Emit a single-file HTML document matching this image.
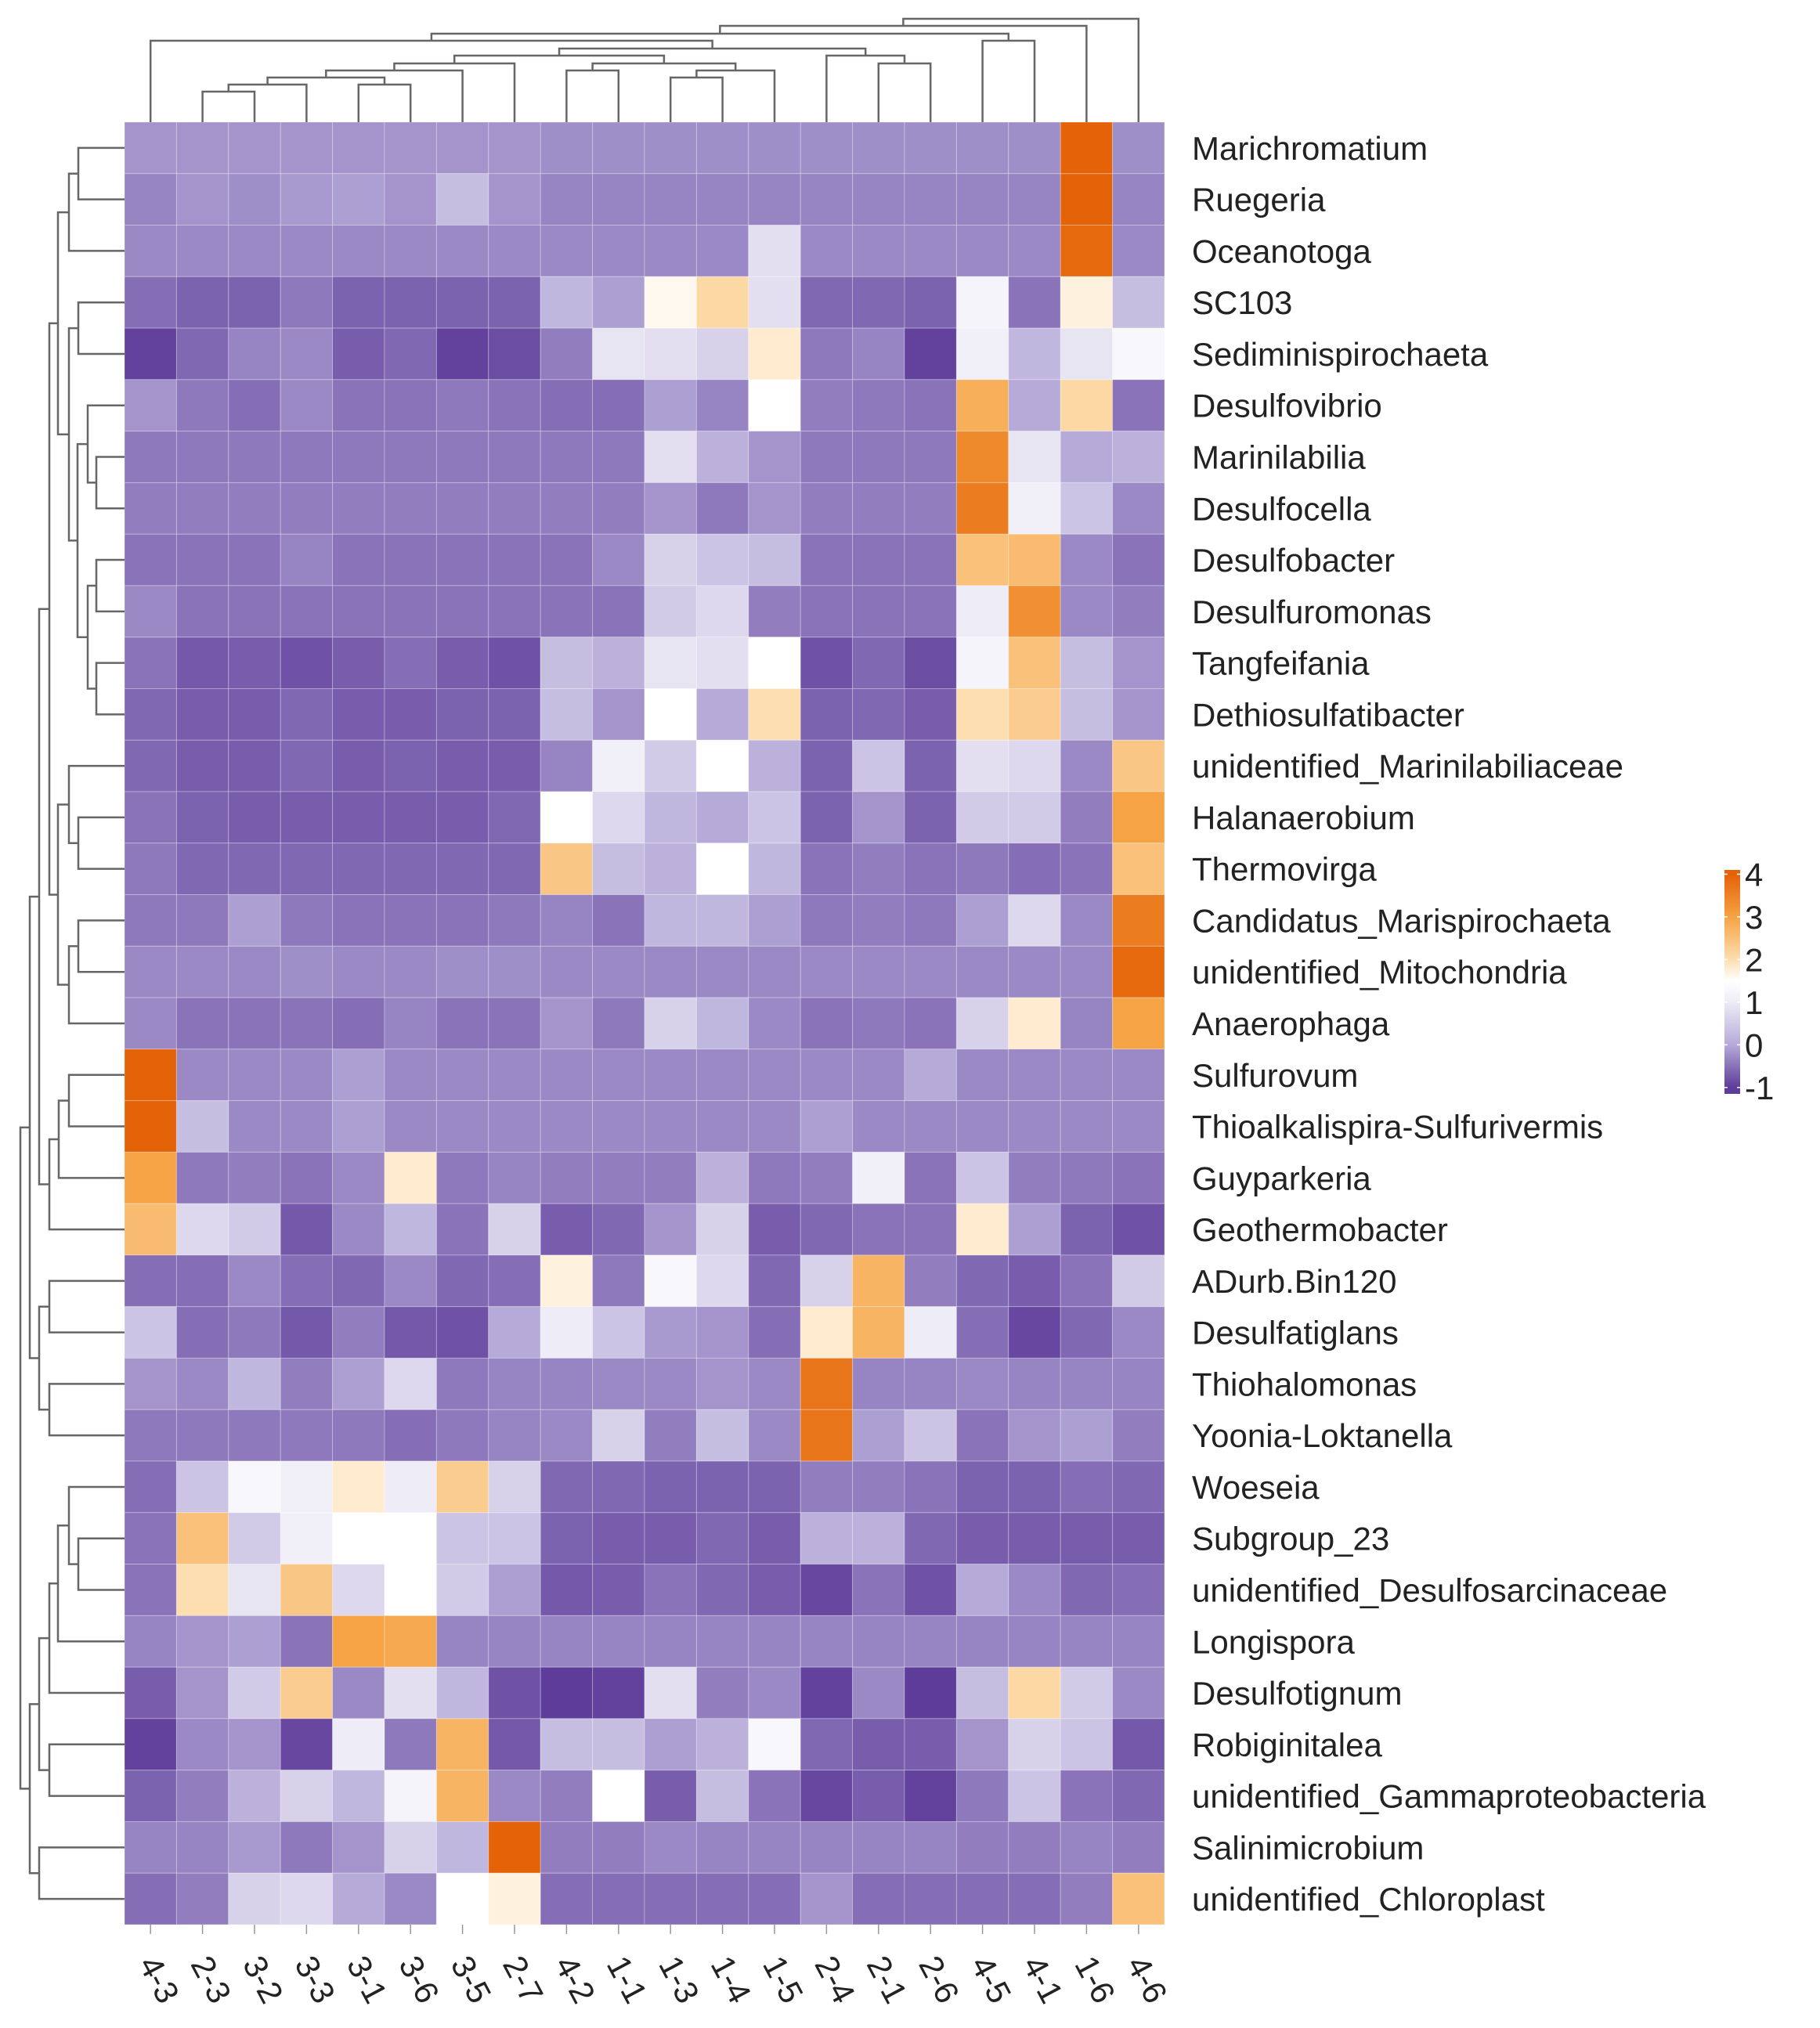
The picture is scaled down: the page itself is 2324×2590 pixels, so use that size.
<!DOCTYPE html>
<html><head><meta charset="utf-8"><style>
html,body{margin:0;padding:0;background:#fff;}
svg{display:block;font-family:"Liberation Sans",Arial,sans-serif;}
</style></head><body>
<svg id="chart" width="2324" height="2590" xmlns="http://www.w3.org/2000/svg">
<g id="cells"></g>
<g id="rowlabels"></g>
<g id="collabels"></g>
<g id="topdend"></g>
<g id="leftdend"></g>
<g id="legend"></g>
</svg>
<script>
const columns=["4-3","2-3","3-2","3-3","3-1","3-6","3-5","2-7","4-2","1-1","1-3","1-4","1-5","2-4","2-1","2-6","4-5","4-1","1-6","4-6"];
const rows=["Marichromatium","Ruegeria","Oceanotoga","SC103","Sediminispirochaeta","Desulfovibrio","Marinilabilia","Desulfocella","Desulfobacter","Desulfuromonas","Tangfeifania","Dethiosulfatibacter","unidentified_Marinilabiliaceae","Halanaerobium","Thermovirga","Candidatus_Marispirochaeta","unidentified_Mitochondria","Anaerophaga","Sulfurovum","Thioalkalispira-Sulfurivermis","Guyparkeria","Geothermobacter","ADurb.Bin120","Desulfatiglans","Thiohalomonas","Yoonia-Loktanella","Woeseia","Subgroup_23","unidentified_Desulfosarcinaceae","Longispora","Desulfotignum","Robiginitalea","unidentified_Gammaproteobacteria","Salinimicrobium","unidentified_Chloroplast"];
const values=[
[-0.2,-0.2,-0.2,-0.2,-0.2,-0.2,-0.2,-0.2,-0.25,-0.25,-0.25,-0.25,-0.25,-0.25,-0.25,-0.25,-0.25,-0.25,4,-0.25],
[-0.35,-0.2,-0.25,-0.15,-0.1,-0.2,0.3,-0.2,-0.35,-0.35,-0.35,-0.35,-0.35,-0.35,-0.35,-0.35,-0.35,-0.35,4,-0.35],
[-0.3,-0.3,-0.3,-0.3,-0.3,-0.3,-0.3,-0.3,-0.3,-0.3,-0.3,-0.3,0.8,-0.3,-0.3,-0.3,-0.3,-0.3,3.9,-0.3],
[-0.55,-0.65,-0.65,-0.45,-0.65,-0.65,-0.65,-0.65,0.2,-0.1,1.6,2.1,0.8,-0.6,-0.6,-0.65,1.2,-0.5,1.7,0.3],
[-0.95,-0.6,-0.35,-0.3,-0.7,-0.6,-0.95,-0.85,-0.4,0.9,0.8,0.6,1.8,-0.45,-0.35,-0.95,1.1,0.2,0.9,1.3],
[-0.2,-0.45,-0.55,-0.3,-0.5,-0.5,-0.45,-0.5,-0.55,-0.55,-0.1,-0.35,1.5,-0.4,-0.45,-0.5,2.8,0,2.1,-0.5],
[-0.45,-0.45,-0.45,-0.45,-0.45,-0.45,-0.45,-0.45,-0.45,-0.45,0.8,0.1,-0.2,-0.45,-0.45,-0.45,3.4,0.9,0,0.1],
[-0.4,-0.4,-0.4,-0.4,-0.4,-0.4,-0.4,-0.4,-0.4,-0.4,-0.2,-0.45,-0.2,-0.4,-0.4,-0.4,3.6,1.1,0.4,-0.3],
[-0.5,-0.5,-0.5,-0.35,-0.5,-0.5,-0.5,-0.5,-0.5,-0.3,0.6,0.4,0.3,-0.5,-0.5,-0.5,2.5,2.6,-0.3,-0.5],
[-0.3,-0.5,-0.5,-0.5,-0.5,-0.5,-0.5,-0.5,-0.5,-0.5,0.5,0.7,-0.4,-0.5,-0.5,-0.5,1.0,3.3,-0.3,-0.4],
[-0.5,-0.75,-0.7,-0.8,-0.7,-0.55,-0.7,-0.8,0.3,0.1,0.9,0.8,1.5,-0.8,-0.6,-0.85,1.2,2.5,0.3,-0.2],
[-0.6,-0.7,-0.7,-0.6,-0.7,-0.7,-0.65,-0.65,0.3,-0.2,1.5,0,2,-0.65,-0.6,-0.7,2.0,2.3,0.3,-0.2],
[-0.6,-0.7,-0.7,-0.6,-0.7,-0.65,-0.7,-0.7,-0.35,1.1,0.5,1.5,0.1,-0.65,0.4,-0.65,0.8,0.7,-0.3,2.4],
[-0.5,-0.65,-0.7,-0.7,-0.7,-0.7,-0.7,-0.6,1.5,0.7,0.2,0,0.4,-0.65,-0.2,-0.65,0.5,0.5,-0.4,3.0],
[-0.45,-0.6,-0.6,-0.6,-0.6,-0.6,-0.6,-0.6,2.4,0.3,0.1,1.5,0.2,-0.5,-0.4,-0.5,-0.45,-0.55,-0.5,2.5],
[-0.45,-0.45,-0.1,-0.45,-0.5,-0.5,-0.5,-0.45,-0.35,-0.5,0.2,0.2,-0.1,-0.45,-0.4,-0.45,-0.1,0.7,-0.3,3.6],
[-0.3,-0.3,-0.3,-0.25,-0.3,-0.3,-0.25,-0.25,-0.3,-0.3,-0.3,-0.3,-0.3,-0.3,-0.3,-0.3,-0.3,-0.3,-0.3,3.9],
[-0.3,-0.5,-0.5,-0.5,-0.55,-0.35,-0.5,-0.5,-0.2,-0.45,0.6,0.2,-0.3,-0.5,-0.45,-0.5,0.6,1.8,-0.35,3.0],
[4,-0.3,-0.3,-0.3,-0.1,-0.3,-0.3,-0.3,-0.3,-0.3,-0.3,-0.3,-0.3,-0.3,-0.3,0,-0.3,-0.3,-0.3,-0.3],
[4,0.3,-0.3,-0.3,-0.1,-0.3,-0.3,-0.3,-0.3,-0.3,-0.3,-0.3,-0.3,-0.1,-0.3,-0.3,-0.3,-0.3,-0.3,-0.3],
[3.0,-0.45,-0.4,-0.5,-0.3,1.8,-0.45,-0.35,-0.4,-0.4,-0.4,0.1,-0.45,-0.4,1.1,-0.5,0.4,-0.4,-0.45,-0.5],
[2.6,0.7,0.5,-0.75,-0.3,0.2,-0.5,0.6,-0.7,-0.6,-0.2,0.6,-0.7,-0.6,-0.5,-0.5,1.8,-0.1,-0.65,-0.8],
[-0.55,-0.55,-0.3,-0.55,-0.6,-0.3,-0.6,-0.55,1.7,-0.45,1.3,0.7,-0.6,0.6,2.7,-0.4,-0.6,-0.7,-0.5,0.5],
[0.4,-0.55,-0.45,-0.75,-0.4,-0.75,-0.8,0,1.0,0.4,-0.15,-0.2,-0.55,1.8,2.7,1.0,-0.55,-0.9,-0.6,-0.3],
[-0.2,-0.3,0.2,-0.4,-0.1,0.7,-0.45,-0.35,-0.35,-0.3,-0.3,-0.2,-0.3,3.7,-0.35,-0.35,-0.3,-0.35,-0.35,-0.35],
[-0.45,-0.45,-0.45,-0.45,-0.45,-0.55,-0.45,-0.35,-0.3,0.6,-0.4,0.3,-0.3,3.7,-0.1,0.4,-0.5,-0.2,-0.1,-0.4],
[-0.55,0.4,1.3,1.1,1.8,1.0,2.3,0.6,-0.6,-0.6,-0.65,-0.65,-0.65,-0.4,-0.4,-0.5,-0.65,-0.65,-0.55,-0.6],
[-0.5,2.5,0.5,1.1,1.5,1.5,0.4,0.4,-0.65,-0.7,-0.7,-0.6,-0.7,0.1,0.1,-0.6,-0.7,-0.7,-0.7,-0.7],
[-0.5,2.0,0.9,2.4,0.7,1.5,0.5,-0.1,-0.75,-0.7,-0.5,-0.6,-0.7,-0.9,-0.5,-0.8,0,-0.3,-0.6,-0.55],
[-0.35,-0.2,-0.1,-0.5,3.0,2.9,-0.35,-0.35,-0.35,-0.35,-0.35,-0.35,-0.35,-0.35,-0.35,-0.35,-0.35,-0.35,-0.35,-0.35],
[-0.7,-0.2,0.5,2.3,-0.3,0.8,0.2,-0.8,-1,-0.95,0.8,-0.4,-0.3,-0.95,-0.3,-1,0.3,2.1,0.5,-0.3],
[-0.95,-0.3,-0.2,-0.9,1.0,-0.45,2.7,-0.75,0.3,0.3,-0.1,0.1,1.3,-0.6,-0.7,-0.7,-0.2,0.6,0.4,-0.75],
[-0.65,-0.4,0.1,0.6,0.2,1.2,2.7,-0.3,-0.4,1.5,-0.7,0.3,-0.5,-0.9,-0.7,-0.95,-0.45,0.4,-0.5,-0.6],
[-0.35,-0.35,-0.15,-0.45,-0.2,0.6,0.2,4,-0.4,-0.4,-0.3,-0.35,-0.35,-0.35,-0.35,-0.35,-0.4,-0.4,-0.35,-0.4],
[-0.55,-0.4,0.6,0.7,0,-0.3,1.5,1.7,-0.55,-0.55,-0.55,-0.55,-0.55,-0.2,-0.55,-0.55,-0.55,-0.55,-0.4,2.5]
];
const legendTicks=[4,3,2,1,0,-1];
const colorStops=[[-1,[94,60,153]],[0,[181,170,216]],[1,[238,236,246]],[1.5,[255,255,255]],[2,[253,222,176]],[3,[245,163,68]],[4,[228,98,8]]];

const cA=[1,2,117], cB=[cA,3,108], cC=[4,5,108], cD=[cB,cC,99], cE=[cD,6,90], cF=[cE,7,81];
const cG=[8,9,90], cH=[10,11,99], cI=[cH,12,90], cJ=[cG,cI,81], cK=[cF,cJ,71];
const cL=[14,15,81], cM=[13,cL,71], cN=[cK,cM,62], cO=[0,cN,52], cP=[16,17,52];
const cQ=[cO,cP,43], cR=[cQ,18,33], colTree=[cR,19,24];
const r01=[[0,1,100],2,88];
const r57=[5,[6,7,123],112], r811=[[8,9,123],[10,11,123],112];
const r311=[[3,4,100],[r57,r811,99],88];
const r011=[r01,r311,74];
const r1214=[12,[13,14,100],88], r1517=[[15,16,100],17,88];
const r017=[r011,[r1214,r1517,74],63];
const r1821=[[[18,19,88],20,75],21,63];
const r021=[r017,r1821,50];
const r2225=[[22,23,63],[24,25,63],50];
const r025=[r021,r2225,38];
const r2630=[[[26,[27,28,100],88],29,74],30,63];
const r2632=[r2630,[31,32,63],50];
const r2634=[r2632,[33,34,50],38];
const rowTree=[r025,r2634,26];

const NS="http://www.w3.org/2000/svg";
const X0=159,X1=1487,Y0=156,Y1=2458;
const cw=(X1-X0)/columns.length, rh=(Y1-Y0)/rows.length;
function xScale(i){return X0+i*cw;}
function yScale(j){return Y0+j*rh;}
function color(v){
  v=Math.max(-1,Math.min(4,v));
  for(let k=0;k<colorStops.length-1;k++){
    const a=colorStops[k],b=colorStops[k+1];
    if(v<=b[0]){const t=(v-a[0])/(b[0]-a[0]);
      const c=a[1].map((x,i)=>Math.round(x+(b[1][i]-x)*t));
      return `rgb(${c[0]},${c[1]},${c[2]})`;}
  }
  return "rgb(228,98,8)";
}
function mk(tag,attrs,parent){const e=document.createElementNS(NS,tag);for(const k in attrs)e.setAttribute(k,attrs[k]);parent.appendChild(e);return e;}

const cells=document.getElementById('cells');
values.forEach((row,j)=>row.forEach((v,i)=>{
  const r=mk('rect',{x:xScale(i),y:yScale(j),width:cw,height:rh,fill:color(v),stroke:'rgba(255,255,255,0.3)','stroke-width':1},cells);
  
  
}));

const rl=document.getElementById('rowlabels');
rows.forEach((n,j)=>{
  const t=mk('text',{x:1522,y:yScale(j)+rh/2+15,'font-size':42,fill:'#222'},rl);
  t.textContent=n;
  
  
});
const cl=document.getElementById('collabels');
columns.forEach((n,i)=>{
  const cx=xScale(i)+cw/2;
  mk('line',{x1:cx,y1:Y1,x2:cx,y2:Y1+12,stroke:'#999','stroke-width':1.5},cl);
  const t=mk('text',{x:0,y:0,'font-size':42,fill:'#222',transform:`translate(${cx-16},${2508}) rotate(62)`},cl);
  t.textContent=n;
  
  
});

const stroke='#666', sw=2.5;
function drawCol(node,g){
  if(typeof node==='number')return {p:xScale(node)+cw/2,h:Y0};
  const a=drawCol(node[0],g),b=drawCol(node[1],g),h=node[2];
  mk('path',{d:`M${a.p},${a.h}V${h}H${b.p}V${b.h}`,fill:'none',stroke,'stroke-width':sw},g);
  return {p:(a.p+b.p)/2,h};
}
function drawRow(node,g){
  if(typeof node==='number')return {p:yScale(node)+rh/2,h:X0};
  const a=drawRow(node[0],g),b=drawRow(node[1],g),h=node[2];
  mk('path',{d:`M${a.h},${a.p}H${h}V${b.p}H${b.h}`,fill:'none',stroke,'stroke-width':sw},g);
  return {p:(a.p+b.p)/2,h};
}
drawCol(colTree,document.getElementById('topdend'));
drawRow(rowTree,document.getElementById('leftdend'));

const lg=document.getElementById('legend');
const LX=2202,LW=20,LT=1111,LB=1397,vTop=4.1,vBot=-1.15;
function ly(v){return LT+(vTop-v)/(vTop-vBot)*(LB-LT);}
const defs=mk('defs',{},lg);
const grad=mk('linearGradient',{id:'lgd',x1:0,y1:0,x2:0,y2:1},defs);
colorStops.slice().reverse().forEach(s=>{mk('stop',{offset:((vTop-s[0])/(vTop-vBot)),'stop-color':color(s[0])},grad);});
const bar=mk('rect',{x:LX,y:LT,width:LW,height:LB-LT,fill:'url(#lgd)'},lg);


legendTicks.forEach(v=>{
  const y=ly(v);
  mk('line',{x1:LX,y1:y,x2:LX+4,y2:y,stroke:'#fff','stroke-width':1.5},lg);
  mk('line',{x1:LX+LW-4,y1:y,x2:LX+LW,y2:y,stroke:'#fff','stroke-width':1.5},lg);
  const t=mk('text',{x:LX+LW+6,y:y+15,'font-size':42,fill:'#222'},lg);
  t.textContent=v;
  
  
});
</script>
</body></html>
